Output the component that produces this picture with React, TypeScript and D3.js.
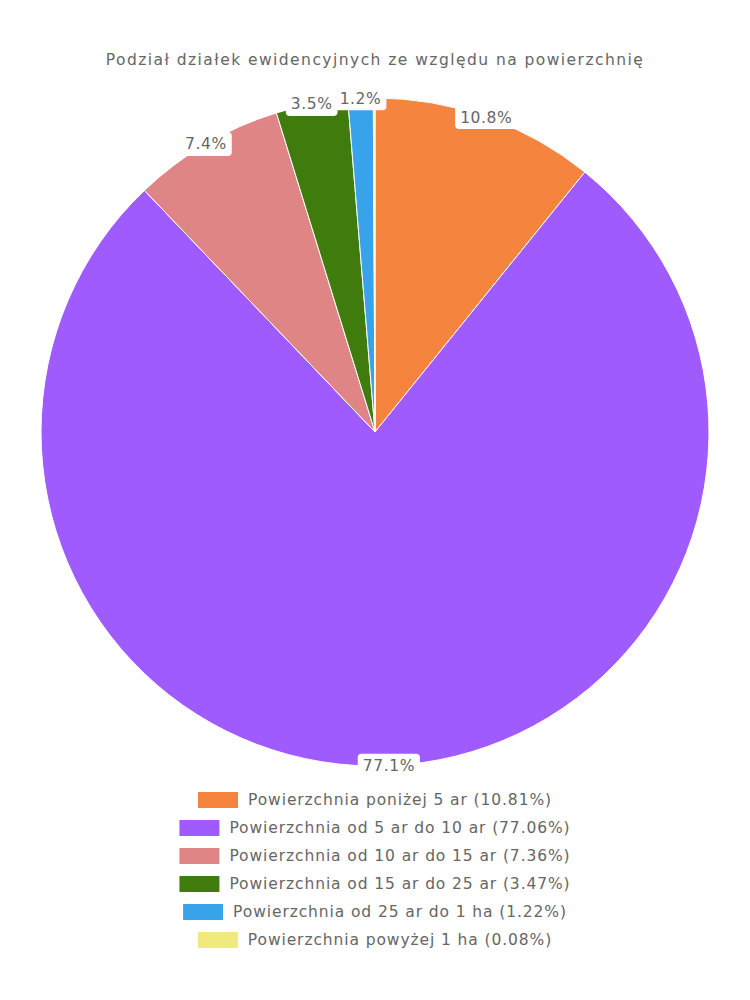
import { useRef, useEffect } from "react";
import * as d3 from "d3";

const labels = [
  "Powierzchnia poniżej 5 ar",
  "Powierzchnia od 5 ar do 10 ar",
  "Powierzchnia od 10 ar do 15 ar",
  "Powierzchnia od 15 ar do 25 ar",
  "Powierzchnia od 25 ar do 1 ha",
  "Powierzchnia powyżej 1 ha",
];
const values = [10.81, 77.06, 7.36, 3.47, 1.22, 0.08];
const colors = ["#f5843f", "#a05bff", "#e08585", "#3f7c0d", "#38a3ea", "#f0ea7c"];
const title = "Podział działek ewidencyjnych ze względu na powierzchnię";

const FONT = "'DejaVu Sans', sans-serif";

const App = () => {
  const svgRef = useRef<SVGSVGElement>(null);

  useEffect(() => {
    document.body.style.margin = "0";
    const width = 750;
    const height = 1000;
    const cx = 375;
    const cy = 432;
    const radius = 334;

    const svg = d3
      .select(svgRef.current)
      .attr("width", width)
      .attr("height", height)
      .style("font-family", FONT);
    svg.selectAll("*").remove();

    // title
    svg
      .append("text")
      .attr("x", cx)
      .attr("y", 65)
      .attr("text-anchor", "middle")
      .attr("fill", "#666")
      .style("font-size", "15.5px")
      .style("letter-spacing", "1.45px")
      .text(title);

    const data = values.map((v, i) => ({ label: labels[i], value: v, color: colors[i] }));
    const pie = d3
      .pie<any>()
      .sort(null)
      .value((d) => d.value);
    const arcs = pie(data);
    const arc = d3.arc<any>().innerRadius(0).outerRadius(radius);

    const g = svg.append("g").attr("transform", `translate(${cx},${cy})`);
    g.selectAll("path")
      .data(arcs)
      .join("path")
      .attr("d", arc)
      .attr("fill", (d: any) => d.data.color)
      .attr("stroke", "#fff")
      .attr("stroke-width", 1);

    // etykiety na krawędzi
    const lab = g
      .selectAll("g.lab")
      .data(arcs.filter((d: any) => d.data.value >= 0.5))
      .join("g")
      .attr("class", "lab")
      .attr("transform", (d: any) => {
        const a = (d.startAngle + d.endAngle) / 2;
        return `translate(${radius * Math.sin(a)},${-radius * Math.cos(a)})`;
      });
    const rects = lab.append("rect").attr("fill", "#fff").attr("rx", 4).attr("ry", 4);
    const txt = lab
      .append("text")
      .attr("text-anchor", "middle")
      .attr("dy", "0.35em")
      .attr("fill", "#666")
      .style("font-size", "15.5px")
      .style("letter-spacing", "0.6px")
      .text((d: any) => d3.format(".1f")(d.data.value) + "%");
    txt.each(function (_d: any, i: number) {
      const w = (this as SVGTextElement).getComputedTextLength();
      d3.select(rects.nodes()[i])
        .attr("x", -w / 2 - 5)
        .attr("y", -12)
        .attr("width", w + 10)
        .attr("height", 24);
    });

    // legenda
    const legend = svg.append("g");
    data.forEach((d, i) => {
      const y = 800 + i * 28;
      const row = legend.append("g");
      const t = row
        .append("text")
        .attr("y", y)
        .attr("dy", "0.35em")
        .attr("fill", "#666")
        .style("font-size", "15.5px")
        .style("letter-spacing", "0.9px")
        .text(`${d.label} (${d3.format(".2f")(d.value)}%)`);
      const tw = (t.node() as SVGTextElement).getComputedTextLength();
      const total = 40 + 10 + tw;
      const x0 = cx - total / 2;
      row
        .append("rect")
        .attr("x", x0)
        .attr("y", y - 8)
        .attr("width", 40)
        .attr("height", 16)
        .attr("fill", d.color);
      t.attr("x", x0 + 50);
    });

    return () => {
      svg.selectAll("*").remove();
    };
  }, []);

  return <svg ref={svgRef}></svg>;
};

export default App;
